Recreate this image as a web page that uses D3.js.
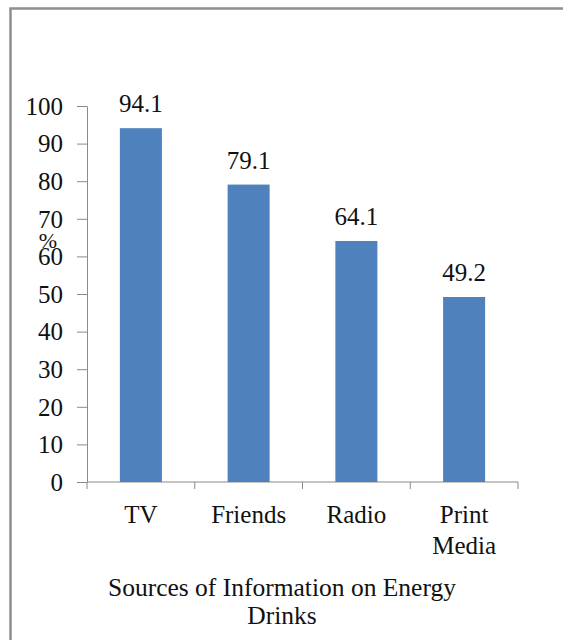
<!DOCTYPE html>
<html>
<head>
<meta charset="utf-8">
<script src="https://cdn.jsdelivr.net/npm/d3@7"></script>
<style>
  body { margin: 0; background: #fff; }
  svg text { font-family: "Liberation Serif", serif !important; }
  .axis path, .axis line { stroke: #8a8a8a; }
</style>
</head>
<body>
<div id="chart"></div>
<script>
// Chart data
const categories = ["TV", "Friends", "Radio", "Print Media"];
const values = [94.1, 79.1, 64.1, 49.2];
const yTicks = [0, 10, 20, 30, 40, 50, 60, 70, 80, 90, 100];
const yLabel = "%";
const titleLines = ["Sources of Information on Energy", "Drinks"];

const width = 563, height = 640;

const svg = d3.select("#chart")
    .append("svg")
        .attr("width", width)
        .attr("height", height)
        .attr("font-family", "Liberation Serif");

// Frame around the chart area
svg.append("rect")
    .attr("x", 10.5).attr("y", 8.5)
    .attr("width", width + 20).attr("height", height + 20)
    .attr("fill", "none")
    .attr("stroke", "#8f8f8f")
    .attr("stroke-width", 2.5);

// Scales
const x = d3.scaleBand()
    .domain(categories)
    .range([87, 518])
    .paddingInner(0.61)
    .paddingOuter(0.305);

const y = d3.scaleLinear()
    .domain([0, 100])
    .range([482, 106]);

// Y axis
const yAxis = svg.append("g")
    .attr("class", "axis y")
    .attr("transform", "translate(87,0)")
    .call(d3.axisLeft(y).tickValues(yTicks).tickSize(10).tickPadding(14).tickSizeOuter(0));
yAxis.attr("font-family", "Liberation Serif");
yAxis.selectAll("text")
    .attr("font-size", 25)
    .attr("fill", "#111")
    .attr("dy", "0.33em");

// X axis line
const xAxis = svg.append("g")
    .attr("class", "axis x")
    .attr("transform", "translate(0," + y(0) + ")");
xAxis.append("path")
    .attr("d", "M" + x.range()[0] + ",0H" + x.range()[1]);

// Tick marks sit between the categories
const bounds = d3.range(categories.length + 1)
    .map(i => x.range()[0] + i * x.step());
xAxis.selectAll("line.tick")
    .data(bounds)
    .join("line")
        .attr("class", "tick")
        .attr("x1", d => d).attr("x2", d => d)
        .attr("y1", 0).attr("y2", 7);

// Category labels (wrapped on spaces)
xAxis.selectAll("text.cat")
    .data(categories)
    .join("text")
        .attr("class", "cat")
        .attr("text-anchor", "middle")
        .attr("font-size", 25)
        .attr("fill", "#111")
        .attr("transform", d => "translate(" + (x(d) + x.bandwidth() / 2) + ",41)")
    .selectAll("tspan")
    .data(d => d.split(" "))
    .join("tspan")
        .attr("x", 0)
        .attr("y", (d, i) => i * 31)
        .text(d => d);

// Bars
svg.append("g")
    .selectAll("rect")
    .data(values)
    .join("rect")
        .attr("x", (d, i) => x(categories[i]))
        .attr("y", d => y(d))
        .attr("width", x.bandwidth())
        .attr("height", d => y(0) - y(d))
        .attr("fill", "#4f81bd");

// Value labels
svg.append("g")
    .selectAll("text")
    .data(values)
    .join("text")
        .attr("x", (d, i) => x(categories[i]) + x.bandwidth() / 2)
        .attr("y", d => y(d) - 16)
        .attr("text-anchor", "middle")
        .attr("font-size", 25)
        .attr("fill", "#111")
        .text(d => d.toFixed(1));

// Y axis label (sits over the 60 tick, as in the original)
svg.append("text")
    .attr("x", 48)
    .attr("y", 248)
    .attr("text-anchor", "middle")
    .attr("font-size", 22)
    .attr("fill", "#111")
    .text(yLabel);

// Title below the axis
svg.append("text")
    .attr("text-anchor", "middle")
    .attr("font-size", 25.5)
    .attr("fill", "#111")
    .selectAll("tspan")
    .data(titleLines)
    .join("tspan")
        .attr("x", 282)
        .attr("y", (d, i) => 596 + i * 28)
        .text(d => d);
</script>
</body>
</html>
